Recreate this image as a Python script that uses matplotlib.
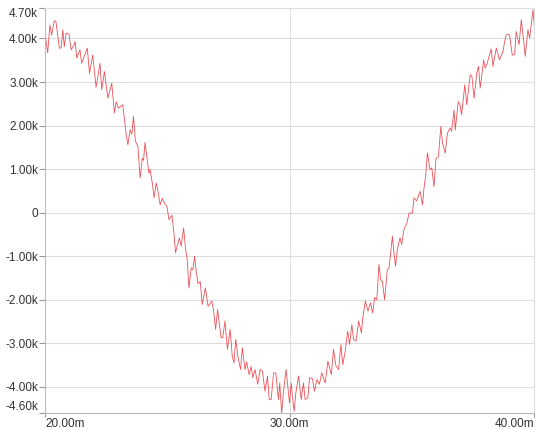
import matplotlib.pyplot as plt
from matplotlib.ticker import FuncFormatter

# waveform vertices: time in ms, value in volts
t = [20.00, 20.11, 20.20, 20.27, 20.38, 20.45, 20.59, 20.66, 20.73, 20.79,
     20.86, 20.98, 21.07, 21.19, 21.23, 21.30, 21.43, 21.50, 21.73, 21.82,
     21.95, 22.09, 22.25, 22.32, 22.43, 22.57, 22.73, 22.84, 22.91, 23.00,
     23.18, 23.32, 23.39, 23.48, 23.55, 23.62, 23.70, 23.80, 23.89, 23.98,
     24.03, 24.09, 24.17, 24.25, 24.30, 24.39, 24.46, 24.55, 24.62, 24.71,
     24.80, 24.85, 24.99, 25.07, 25.19, 25.27, 25.34, 25.40, 25.50, 25.57,
     25.67, 25.75, 25.81, 25.89, 25.98, 26.05, 26.12, 26.19, 26.26, 26.35,
     26.43, 26.56, 26.67, 26.82, 26.89, 26.98, 27.06, 27.20, 27.27, 27.36,
     27.46, 27.57, 27.66, 27.73, 27.80, 27.91, 28.00, 28.07, 28.18, 28.25,
     28.35, 28.43, 28.50, 28.59, 28.70, 28.80, 28.89, 29.00, 29.10, 29.17,
     29.25, 29.35, 29.44, 29.55, 29.60, 29.68, 29.75, 29.86, 30.00, 30.07,
     30.12, 30.19, 30.26, 30.37, 30.48, 30.57, 30.64, 30.75, 30.82, 30.94,
     31.02, 31.12, 31.22, 31.32, 31.46, 31.57, 31.71, 31.80, 31.90, 32.01,
     32.10, 32.18, 32.28, 32.38, 32.46, 32.55, 32.62, 32.72, 32.83, 32.94,
     32.99, 33.10, 33.21, 33.31, 33.40, 33.48, 33.57, 33.66, 33.73, 33.80,
     33.89, 34.00, 34.07, 34.21, 34.27, 34.34, 34.41, 34.52, 34.59, 34.68,
     34.80, 34.89, 35.03, 35.09, 35.20, 35.34, 35.44, 35.50, 35.57, 35.64,
     35.75, 35.82, 35.91, 35.99, 36.09, 36.19, 36.26, 36.37, 36.46, 36.57,
     36.63, 36.73, 36.78, 36.90, 36.97, 37.04, 37.17, 37.25, 37.39, 37.46,
     37.55, 37.66, 37.73, 37.80, 37.94, 38.00, 38.07, 38.25, 38.32, 38.46,
     38.59, 38.73, 38.80, 38.86, 38.93, 39.00, 39.11, 39.21, 39.27, 39.39,
     39.48, 39.58, 39.64, 39.75, 39.82, 39.96, 40.03]

v = [4130, 3670, 4310, 4080, 4410, 4380, 3780, 3780, 4200, 3810,
     4120, 4100, 3740, 3850, 3930, 3550, 3740, 3430, 3780, 3200,
     3620, 2880, 3430, 2820, 3240, 2630, 2970, 2290, 2550, 2400,
     2480, 1800, 1560, 1900, 1800, 2210, 1640, 1520, 800, 1250,
     1200, 1610, 1250, 910, 990, 680, 340, 680, 490, 180,
     330, 250, 140, -160, -60, -450, -920, -770, -580, -770,
     -350, -840, -1040, -1730, -1270, -1310, -1000, -1380, -1630, -1580,
     -2110, -1730, -2150, -2030, -2220, -2680, -2220, -2870, -2870, -2490,
     -3140, -2680, -3300, -3450, -2910, -3370, -3600, -3100, -3600, -3430,
     -3720, -3530, -3790, -3600, -3940, -3600, -3640, -4100, -3750, -4290,
     -4290, -3680, -3680, -4290, -3910, -4610, -4140, -3600, -4370, -3910,
     -4220, -4560, -4140, -3750, -4290, -3910, -4290, -4250, -3790, -3810,
     -4100, -3830, -3940, -3680, -3910, -3410, -3720, -3140, -3520, -3600,
     -3030, -3490, -3180, -2720, -3020, -2570, -2910, -2950, -2490, -2760,
     -2450, -2030, -2260, -2070, -2300, -1950, -2000, -1190, -1550, -1580,
     -2000, -1310, -1280, -540, -920, -1230, -840, -580, -730, -390,
     -240, -10, -10, 340, 270, 490, 180, 560, 860, 1370,
     990, 1030, 600, 1240, 1280, 1980, 1600, 1370, 1830, 1940,
     1870, 2360, 1900, 2550, 2480, 2250, 2940, 2480, 3170, 3130,
     2630, 3210, 3360, 2860, 3510, 3320, 3400, 3760, 3360, 3780,
     3510, 3700, 3930, 4080, 4100, 4080, 3620, 3630, 4160, 3860,
     4430, 3930, 3590, 4200, 4010, 4660, 4160]

y_ticks = [-4600, -4000, -3000, -2000, -1000, 0, 1000, 2000, 3000, 4000, 4700]
x_ticks = [20, 30, 40]

plt.rcParams['font.family'] = ['Liberation Sans', 'DejaVu Sans']

fig = plt.figure(figsize=(5.36, 4.30), dpi=100)
ax = fig.add_axes([45 / 536, 17 / 430, 489 / 536, 405 / 430])

ax.plot(t, v, color='#e8323a', lw=0.6, alpha=0.85)

ax.set_xlim(20, 40)
ax.set_ylim(-4600, 4700)


def kfmt(val, pos):
    if val == 0:
        return '0'
    return '%.2fk' % (val / 1000)


ax.set_yticks(y_ticks)
ax.yaxis.set_major_formatter(FuncFormatter(kfmt))
ax.set_xticks(x_ticks)
ax.set_xticklabels(['%.2fm' % x for x in x_ticks])

ax.grid(True, axis='y', color='#dddddd', lw=0.8)
ax.axvline(30, color='#dddddd', lw=0.8, zorder=0)

ax.tick_params(axis='both', labelsize=8.5, colors='#333333', width=0.8)
ax.tick_params(axis='both', color='#999999')
ax.tick_params(axis='y', length=4, pad=1)
ax.tick_params(axis='x', length=3, pad=0.5)

# keep the end labels inside the plot range
ylabels = ax.get_yticklabels()
ylabels[0].set_va('bottom')
ylabels[-1].set_va('top')
xlabels = ax.get_xticklabels()
xlabels[0].set_ha('left')
xlabels[-1].set_ha('right')

for side in ['top', 'right']:
    ax.spines[side].set_color('#dddddd')
for side in ['left', 'bottom']:
    ax.spines[side].set_color('#bbbbbb')
for s in ax.spines.values():
    s.set_linewidth(0.8)

fig.savefig('out.png', dpi=100)
